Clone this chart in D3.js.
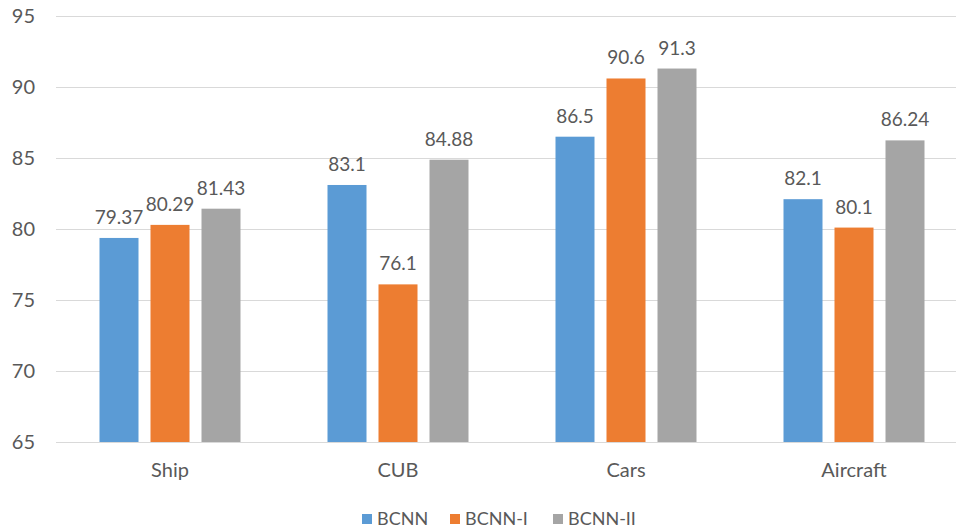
<!DOCTYPE html>
<html>
<head>
<meta charset="utf-8">
<script src="https://cdn.jsdelivr.net/npm/d3@7"></script>
<style>
  body { margin: 0; background: #fff; }
  text { font-family: Lato, "Open Sans", sans-serif; fill: #595959; }
</style>
</head>
<body>
<svg id="main_chart" width="956" height="529"></svg>
<script>
const categories = ['Ship', 'CUB', 'Cars', 'Aircraft'];
const series_names = ['BCNN', 'BCNN-I', 'BCNN-II'];
const bcnn = [79.37, 83.1, 86.5, 82.1];
const bcnn_i = [80.29, 76.1, 90.6, 80.1];
const bcnn_ii = [81.43, 84.88, 91.3, 86.24];
const y_ticks = [65, 70, 75, 80, 85, 90, 95];
const colors = ['#5B9BD5', '#ED7D31', '#A5A5A5'];

const all_series = [bcnn, bcnn_i, bcnn_ii];
const svg = d3.select('#main_chart');

const xScale = d3.scaleBand().domain(categories).range([56, 968]).paddingInner(0).paddingOuter(0);
const yScale = d3.scaleLinear().domain([65, 95]).range([442, 16]);

// gridlines
svg.append('g').selectAll('line').data(y_ticks).enter().append('line')
  .attr('x1', 56).attr('x2', 956)
  .attr('y1', d => yScale(d) + 0.5).attr('y2', d => yScale(d) + 0.5)
  .attr('stroke', '#D9D9D9').attr('stroke-width', 1.2);

// y axis labels
svg.append('g').selectAll('text').data(y_ticks).enter().append('text')
  .attr('x', 35).attr('y', d => yScale(d))
  .attr('dy', '0.35em').attr('text-anchor', 'end')
  .style('font-size', '20px')
  .text(d => d);

const bar_width = 39;
const bar_gap = 12;
const group_width = bar_width * 3 + bar_gap * 2;

const bar_area = svg.append('g').attr('id', 'bar_area');
all_series.forEach(function(vals, s) {
  const bx = function(d, i) {
    return xScale(categories[i]) + xScale.bandwidth() / 2 - group_width / 2 + s * (bar_width + bar_gap);
  };
  bar_area.selectAll('rect.s' + s).data(vals).enter().append('rect')
    .attr('class', 's' + s)
    .attr('x', bx)
    .attr('y', d => yScale(d))
    .attr('width', bar_width)
    .attr('height', d => yScale(65) - yScale(d))
    .attr('fill', colors[s]);
  bar_area.selectAll('text.s' + s).data(vals).enter().append('text')
    .attr('class', 's' + s)
    .attr('x', (d, i) => bx(d, i) + bar_width / 2)
    .attr('y', d => yScale(d) - 14)
    .attr('text-anchor', 'middle')
    .style('font-size', '19px')
    .text(d => d);
});

// category labels
svg.append('g').selectAll('text').data(categories).enter().append('text')
  .attr('x', d => xScale(d) + xScale.bandwidth() / 2)
  .attr('y', 470).attr('dy', '0.35em')
  .attr('text-anchor', 'middle')
  .style('font-size', '20px')
  .text(d => d);

// legend
const legend_x = [362, 450, 553];
const legend = svg.append('g').selectAll('g').data(series_names).enter().append('g')
  .attr('transform', (d, i) => 'translate(' + legend_x[i] + ',519)');
legend.append('rect').attr('x', 0).attr('y', -5).attr('width', 10).attr('height', 10)
  .attr('fill', (d, i) => colors[i]);
legend.append('text').attr('x', 15).attr('dy', '0.35em')
  .style('font-size', '18px')
  .text(d => d);
</script>
</body>
</html>
